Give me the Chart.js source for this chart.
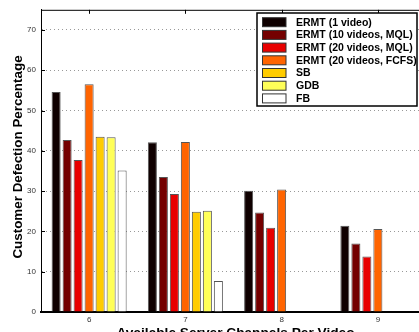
<!DOCTYPE html>
<html>
<head>
<meta charset="utf-8">
<script src="https://cdn.jsdelivr.net/npm/chart.js@4/dist/chart.umd.min.js"></script>
<style>
  html, body { margin: 0; padding: 0; background: #fff; width: 419px; height: 332px; overflow: hidden; }
  canvas { display: block; }
</style>
</head>
<body>
<canvas id="chart" width="426" height="332"></canvas>
<script>
// Available server channels per video (x categories)
const channels = ['6', '7', '8', '9'];

// Customer defection percentage per scheme
const ermtOneVideo    = [54.6, 42.1, 30.1, 21.4];
const ermtTenMql      = [42.7, 33.5, 24.7, 17.0];
const ermtTwentyMql   = [37.7, 29.3, 20.9, 13.8];
const ermtTwentyFcfs  = [56.5, 42.2, 30.4, 20.6];
const sbValues        = [43.5, 24.9, null, null];
const gdbValues       = [43.4, 25.1, null, null];
const fbValues        = [35.1, 7.7, null, null];

const seriesNames = [
  'ERMT (1 video)',
  'ERMT (10 videos, MQL)',
  'ERMT (20 videos, MQL)',
  'ERMT (20 videos, FCFS)',
  'SB',
  'GDB',
  'FB'
];
const seriesValues = [ermtOneVideo, ermtTenMql, ermtTwentyMql, ermtTwentyFcfs, sbValues, gdbValues, fbValues];
const seriesColors = ['#0f0000', '#740000', '#e80000', '#ff6400', '#ffcc00', '#ffff58', '#ffffff'];

// y axis tick values
const yTicks = [0, 10, 20, 30, 40, 50, 60, 70];

const FONT = "'Liberation Sans', Arial, Helvetica, sans-serif";

const frameAndLegend = {
  id: 'frameAndLegend',
  afterDraw(chart) {
    const { ctx, chartArea: a, scales: { x, y } } = chart;
    ctx.save();

    // top frame line
    ctx.strokeStyle = '#000';
    ctx.lineWidth = 1;
    ctx.beginPath();
    ctx.moveTo(a.left, a.top + 0.5);
    ctx.lineTo(a.right, a.top + 0.5);
    ctx.stroke();

    // inward tick marks on the left and top edges
    ctx.beginPath();
    yTicks.forEach(v => {
      const py = Math.round(y.getPixelForValue(v)) + 0.5;
      ctx.moveTo(a.left, py);
      ctx.lineTo(a.left + 4, py);
    });
    channels.forEach((c, i) => {
      const px = Math.round(x.getPixelForValue(i)) + 0.5;
      ctx.moveTo(px, a.top);
      ctx.lineTo(px, a.top + 4);
    });
    ctx.stroke();

    // axis titles
    ctx.fillStyle = '#000';
    ctx.textAlign = 'center';
    ctx.textBaseline = 'alphabetic';
    ctx.font = 'bold 13.7px ' + FONT;
    ctx.fillText('Available Server Channels Per Video', 235.5, 336.5);
    ctx.save();
    ctx.font = 'bold 13.4px ' + FONT;
    ctx.translate(22, 157);
    ctx.rotate(-Math.PI / 2);
    ctx.fillText('Customer Defection Percentage', 0, 0);
    ctx.restore();

    // legend box
    const lx = 257, ly = 13, lw = 160, lh = 93;
    ctx.fillStyle = '#fff';
    ctx.fillRect(lx, ly, lw, lh);
    ctx.strokeStyle = '#000';
    ctx.lineWidth = 1.5;
    ctx.strokeRect(lx, ly, lw, lh);

    ctx.font = 'bold 10.5px ' + FONT;
    ctx.textAlign = 'left';
    ctx.textBaseline = 'middle';
    chart.data.datasets.forEach((ds, i) => {
      const cy = 22.2 + i * 12.7;
      ctx.fillStyle = ds.backgroundColor;
      ctx.fillRect(262, cy - 4.5, 24, 9);
      ctx.strokeStyle = '#333';
      ctx.lineWidth = 1;
      ctx.strokeRect(262.5, cy - 4.5, 23.5, 9);
      ctx.fillStyle = '#000';
      ctx.fillText(ds.label, 296, cy + 0.5);
    });

    ctx.restore();
  }
};

new Chart(document.getElementById('chart'), {
  type: 'bar',
  data: {
    labels: channels,
    datasets: seriesNames.map((name, i) => ({
      label: name,
      data: seriesValues[i],
      backgroundColor: seriesColors[i],
      borderColor: '#555',
      borderWidth: 1,
      categoryPercentage: 0.8,
      barPercentage: 0.82
    }))
  },
  options: {
    responsive: false,
    animation: false,
    layout: { padding: { top: 8, left: 0, right: 0, bottom: 0 } },
    plugins: {
      legend: { display: false },
      tooltip: { enabled: false }
    },
    scales: {
      x: {
        offset: true,
        grid: { display: false, drawTicks: false },
        border: { display: true, color: '#000', width: 2 },
        ticks: { color: '#333', font: { family: FONT, size: 8 }, padding: 3, maxRotation: 0 },
        afterFit(scale) { scale.height = 20; }
      },
      y: {
        min: 0,
        max: 75,
        afterBuildTicks(scale) { scale.ticks = yTicks.map(v => ({ value: v })); },
        grid: {
          drawTicks: false,
          color: ctx => (ctx.tick && ctx.tick.value === 0 ? 'rgba(0,0,0,0)' : '#999'),
          lineWidth: 1
        },
        border: { display: true, color: '#000', width: 1, dash: [1, 3], dashOffset: 0 },
        ticks: { color: '#333', font: { family: FONT, size: 8 }, padding: 5 },
        afterFit(scale) { scale.width = 41; }
      }
    }
  },
  plugins: [frameAndLegend]
});
</script>
</body>
</html>
